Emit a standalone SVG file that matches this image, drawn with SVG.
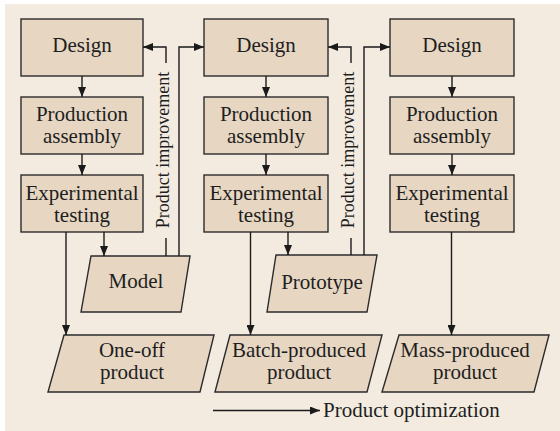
<svg xmlns="http://www.w3.org/2000/svg" width="560" height="431" viewBox="0 0 560 431">
  <defs>
    <marker id="arrow" viewBox="0 0 10 8" refX="10" refY="4" markerWidth="10" markerHeight="8" markerUnits="userSpaceOnUse" orient="auto">
      <path d="M0,0 L10,4 L0,8 Z" fill="#1a1a1a"/>
    </marker>
    <style>
      .box { fill: #e6d6c2; stroke: #2b2b2b; stroke-width: 1.4; }
      text { font-family: "Liberation Serif", "Times New Roman", Times, serif; fill: #1e1e1e; }
      .lbl { font-size: 21px; text-anchor: middle; }
      .side { font-size: 18px; text-anchor: middle; }
      .conn { fill: none; stroke: #1a1a1a; stroke-width: 1.4; }
      .arr { marker-end: url(#arrow); }
    </style>
  </defs>

  <!-- panel -->
  <rect x="5" y="4" width="555" height="427" fill="#f3ebe0"/>

  <!-- column 1 -->
  <g id="design1"><rect class="box" x="21" y="19" width="122" height="57"/><text class="lbl" x="82" y="52">Design</text></g>
  <g id="assembly1"><rect class="box" x="21" y="97" width="122" height="57"/><text class="lbl" x="82" y="121">Production</text><text class="lbl" x="82" y="143">assembly</text></g>
  <g id="testing1"><rect class="box" x="21" y="175" width="122" height="57"/><text class="lbl" x="82" y="200">Experimental</text><text class="lbl" x="82" y="222">testing</text></g>
  <g id="model"><polygon class="box" points="91,256 190,256 181,312 81,312"/><text class="lbl" x="136" y="288">Model</text></g>
  <g id="oneoff"><polygon class="box" points="64,335 214,335 200,392 48,392"/><text class="lbl" x="132" y="357">One-off</text><text class="lbl" x="132" y="379">product</text></g>

  <!-- column 2 -->
  <g id="design2"><rect class="box" x="204" y="19" width="124" height="57"/><text class="lbl" x="266" y="52">Design</text></g>
  <g id="assembly2"><rect class="box" x="204" y="97" width="124" height="57"/><text class="lbl" x="266" y="121">Production</text><text class="lbl" x="266" y="143">assembly</text></g>
  <g id="testing2"><rect class="box" x="204" y="175" width="124" height="57"/><text class="lbl" x="266" y="200">Experimental</text><text class="lbl" x="266" y="222">testing</text></g>
  <g id="prototype"><polygon class="box" points="276,255 377,255 367,312 267,312"/><text class="lbl" x="322" y="289">Prototype</text></g>
  <g id="batch"><polygon class="box" points="230,335 382,335 367,392 215,392"/><text class="lbl" x="299" y="357">Batch-produced</text><text class="lbl" x="299" y="379">product</text></g>

  <!-- column 3 -->
  <g id="design3"><rect class="box" x="390" y="19" width="124" height="57"/><text class="lbl" x="452" y="52">Design</text></g>
  <g id="assembly3"><rect class="box" x="390" y="97" width="124" height="57"/><text class="lbl" x="452" y="121">Production</text><text class="lbl" x="452" y="143">assembly</text></g>
  <g id="testing3"><rect class="box" x="390" y="175" width="124" height="57"/><text class="lbl" x="452" y="200">Experimental</text><text class="lbl" x="452" y="222">testing</text></g>
  <g id="mass"><polygon class="box" points="399,335 549,335 534,392 382,392"/><text class="lbl" x="465" y="357">Mass-produced</text><text class="lbl" x="465" y="379">product</text></g>

  <!-- connectors -->
  <g id="connectors">
    <path class="conn arr" d="M82,76 V97"/>
    <path class="conn arr" d="M82,154 V175"/>
    <path class="conn arr" d="M104,232 V256"/>
    <path class="conn arr" d="M66,232 V335"/>

    <path class="conn arr" d="M266,76 V97"/>
    <path class="conn arr" d="M266,154 V175"/>
    <path class="conn arr" d="M288,232 V255"/>
    <path class="conn arr" d="M250.5,232 V335"/>

    <path class="conn arr" d="M452,76 V97"/>
    <path class="conn arr" d="M452,154 V175"/>
    <path class="conn arr" d="M451.5,232 V335"/>

    <!-- feedback from model -->
    <path class="conn" d="M166,256 V238"/>
    <path class="conn arr" d="M166,63 V47 H143"/>
    <path class="conn arr" d="M179,256 V47 H204"/>
    <!-- feedback from prototype -->
    <path class="conn" d="M351,255 V238"/>
    <path class="conn arr" d="M351,63 V47 H328"/>
    <path class="conn arr" d="M364,255 V47 H390"/>

    <!-- optimization legend arrow -->
    <path class="conn arr" d="M213,410.5 H320"/>
  </g>

  <text class="side" transform="translate(169,150) rotate(-90)">Product improvement</text>
  <text class="side" transform="translate(354,150) rotate(-90)">Product improvement</text>
  <text class="lbl" x="323" y="417" style="text-anchor:start">Product optimization</text>
</svg>
